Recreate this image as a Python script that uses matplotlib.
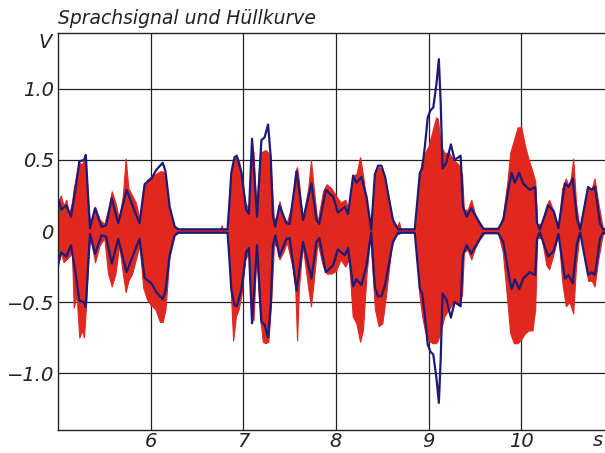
import matplotlib
matplotlib.use("Agg")
import matplotlib.pyplot as plt

# ---- data ----
env_t = [5.00, 5.035, 5.09, 5.14, 5.19, 5.23, 5.28, 5.30, 5.32, 5.345, 5.40, 5.47, 5.52,
         5.58, 5.65, 5.74, 5.81, 5.88, 5.935, 6.01, 6.06, 6.13, 6.16, 6.205, 6.26, 6.30,
         6.83, 6.85, 6.87, 6.905, 6.93, 6.98, 7.03, 7.06, 7.094, 7.148, 7.195, 7.23, 7.267,
         7.296, 7.32, 7.345, 7.39, 7.465, 7.50, 7.575, 7.645, 7.735, 7.79, 7.82, 7.89, 7.97,
         8.02, 8.095, 8.13, 8.185, 8.22, 8.275, 8.33, 8.38, 8.42, 8.455, 8.49, 8.53, 8.56,
         8.615, 8.67, 8.85, 8.905, 8.93, 8.96, 8.99, 9.02, 9.05, 9.085, 9.11, 9.13, 9.15,
         9.19, 9.24, 9.28, 9.345, 9.37, 9.41, 9.46, 9.52, 9.59, 9.75, 9.805, 9.86, 9.895,
         9.93, 9.977, 10.02, 10.09, 10.15, 10.17, 10.20, 10.29, 10.35, 10.40, 10.47, 10.51,
         10.555, 10.60, 10.635, 10.72, 10.76, 10.795, 10.85, 10.885, 10.95]
env_v = [0.23, 0.15, 0.18, 0.10, 0.30, 0.49, 0.50, 0.535, 0.30, 0.02, 0.16, 0.03, 0.04,
         0.23, 0.055, 0.29, 0.17, 0.055, 0.33, 0.37, 0.43, 0.48, 0.42, 0.17, 0.03, 0.012,
         0.012, 0.20, 0.41, 0.52, 0.53, 0.41, 0.15, 0.12, 0.65, 0.10, 0.64, 0.66, 0.75,
         0.52, 0.10, 0.03, 0.18, 0.055, 0.05, 0.42, 0.077, 0.335, 0.077, 0.05, 0.29, 0.24,
         0.13, 0.17, 0.12, 0.39, 0.34, 0.38, 0.24, 0.01, 0.40, 0.46, 0.46, 0.38, 0.27,
         0.077, 0.012, 0.012, 0.41, 0.44, 0.60, 0.80, 0.85, 0.87, 1.04, 1.21, 0.90, 0.44,
         0.48, 0.61, 0.50, 0.53, 0.17, 0.10, 0.16, 0.09, 0.015, 0.015, 0.077, 0.29, 0.41,
         0.34, 0.41, 0.335, 0.29, 0.31, 0.055, 0.01, 0.18, 0.14, 0.02, 0.335, 0.31,
         0.37, 0.09, 0.01, 0.31, 0.29, 0.31, 0.05, 0.01, 0.02]

red_t = [5.00, 5.03, 5.06, 5.09, 5.12, 5.15, 5.17, 5.20, 5.23, 5.26, 5.28, 5.30, 5.33, 5.35,
         5.40, 5.45, 5.50, 5.54, 5.58, 5.62, 5.66, 5.70, 5.73, 5.76, 5.80, 5.84, 5.88, 5.92,
         5.96, 6.00, 6.05, 6.10, 6.13, 6.16, 6.20, 6.25, 6.30, 6.75, 6.765, 6.78, 6.84, 6.87,
         6.89, 6.92, 6.95, 6.98, 7.02, 7.06, 7.09, 7.11, 7.14, 7.18, 7.21, 7.24, 7.27, 7.30,
         7.33, 7.36, 7.39, 7.43, 7.47, 7.53, 7.56, 7.58, 7.60, 7.64, 7.70, 7.73, 7.76, 7.80,
         7.86, 7.90, 7.95, 8.00, 8.05, 8.10, 8.14, 8.18, 8.22, 8.26, 8.29, 8.33, 8.37, 8.42,
         8.46, 8.50, 8.54, 8.60, 8.65, 8.68, 8.70, 8.86, 8.90, 8.93, 8.96, 9.00, 9.04, 9.08,
         9.10, 9.13, 9.17, 9.22, 9.27, 9.32, 9.36, 9.38, 9.42, 9.46, 9.50, 9.55, 9.60, 9.75,
         9.80, 9.85, 9.88, 9.92, 9.96, 10.00, 10.04, 10.08, 10.12, 10.15, 10.17, 10.22,
         10.27, 10.30, 10.34, 10.40, 10.44, 10.48, 10.52, 10.56, 10.59, 10.63, 10.68, 10.72,
         10.76, 10.79, 10.83, 10.88, 10.95]
red_hi = [0.20, 0.25, 0.18, 0.22, 0.12, 0.20, 0.30, 0.40, 0.48, 0.47, 0.50, 0.45, 0.15, 0.05,
          0.17, 0.08, 0.05, 0.15, 0.28, 0.20, 0.08, 0.25, 0.51, 0.30, 0.25, 0.20, 0.08, 0.30,
          0.36, 0.38, 0.40, 0.42, 0.42, 0.40, 0.15, 0.03, 0.01, 0.01, 0.04, 0.01, 0.01, 0.40,
          0.50, 0.52, 0.50, 0.40, 0.20, 0.15, 0.62, 0.55, 0.15, 0.55, 0.56, 0.57, 0.55, 0.40,
          0.08, 0.10, 0.21, 0.10, 0.06, 0.20, 0.42, 0.45, 0.35, 0.08, 0.30, 0.50, 0.30, 0.06,
          0.28, 0.33, 0.30, 0.25, 0.20, 0.22, 0.15, 0.39, 0.40, 0.52, 0.40, 0.20, 0.02, 0.40,
          0.45, 0.44, 0.30, 0.08, 0.02, 0.065, 0.01, 0.01, 0.40, 0.50, 0.55, 0.60, 0.70, 0.80,
          0.79, 0.60, 0.55, 0.55, 0.50, 0.47, 0.40, 0.15, 0.15, 0.22, 0.12, 0.06, 0.015, 0.015,
          0.10, 0.35, 0.55, 0.64, 0.73, 0.73, 0.60, 0.50, 0.42, 0.35, 0.05, 0.05,
          0.18, 0.22, 0.15, 0.02, 0.30, 0.37, 0.30, 0.51, 0.20, 0.01, 0.15, 0.30,
          0.30, 0.37, 0.20, 0.02, 0.02]
red_lo = [-0.25, -0.15, -0.22, -0.20, -0.18, -0.15, -0.54, -0.45, -0.75, -0.70, -0.75, -0.55,
          -0.15, -0.05, -0.22, -0.10, -0.05, -0.30, -0.39, -0.30, -0.10, -0.30, -0.43, -0.35,
          -0.30, -0.20, -0.10, -0.40, -0.48, -0.52, -0.55, -0.64, -0.64, -0.55, -0.20, -0.03,
          -0.01, -0.01, -0.01, -0.01, -0.01, -0.50, -0.77, -0.60, -0.55, -0.45, -0.20, -0.15,
          -0.60, -0.63, -0.15, -0.60, -0.78, -0.79, -0.78, -0.50, -0.10, -0.10, -0.20, -0.15,
          -0.08, -0.25, -0.40, -0.77, -0.40, -0.10, -0.40, -0.53, -0.35, -0.08, -0.25, -0.30,
          -0.30, -0.28, -0.20, -0.25, -0.20, -0.60, -0.65, -0.78, -0.70, -0.30, -0.03, -0.55,
          -0.67, -0.65, -0.45, -0.10, -0.02, -0.02, -0.01, -0.01, -0.45, -0.60, -0.70, -0.77,
          -0.79, -0.79, -0.77, -0.70, -0.60, -0.55, -0.50, -0.52, -0.45, -0.15, -0.13, -0.20,
          -0.12, -0.06, -0.015, -0.015, -0.15, -0.50, -0.72, -0.79, -0.79, -0.76, -0.72,
          -0.70, -0.70, -0.55, -0.05, -0.05, -0.24, -0.27, -0.18, -0.02, -0.35, -0.53, -0.50,
          -0.58, -0.25, -0.01, -0.15, -0.35, -0.35, -0.39, -0.20, -0.02, -0.02]

x_ticks = [6, 7, 8, 9, 10]
y_ticks = [1.0, 0.5, 0.0, -0.5, -1.0]
y_labels = ["1.0", "0.5", "0", "\u22120.5", "\u22121.0"]

title = "Sprachsignal und Hüllkurve"

# ---- figure ----
fig = plt.figure(figsize=(6.05, 4.53), dpi=100)
ax = fig.add_axes([58 / 605, 23 / 453, 1 - 58 / 605, 397 / 453])

RED = "#e0281f"
BLUE = "#1e1a78"

ax.fill_between(red_t, red_lo, red_hi, color=RED, lw=0.8, edgecolor=RED, zorder=2)
ax.plot(env_t, env_v, color=BLUE, lw=1.6, zorder=3, solid_joinstyle="round")
ax.plot(env_t, [-v for v in env_v], color=BLUE, lw=1.6, zorder=3, solid_joinstyle="round")

ax.set_xlim(5.0, 10.903)
ax.set_ylim(-1.401, 1.394)
ax.set_xticks(x_ticks)
ax.set_xticklabels([str(v) for v in x_ticks])
ax.set_yticks(y_ticks)
ax.set_yticklabels(y_labels)
ax.grid(True, color="#222222", lw=0.9, zorder=1)
ax.set_axisbelow(True)
ax.tick_params(length=0, labelsize=14)
ax.tick_params(axis="x", pad=1.5)
ax.tick_params(axis="y", pad=3)
for lab in ax.get_xticklabels() + ax.get_yticklabels():
    lab.set_fontstyle("italic")
    lab.set_color("#222222")
ax.spines["right"].set_visible(False)
for s in ("left", "bottom", "top"):
    ax.spines[s].set_color("#222222")
    ax.spines[s].set_linewidth(1.0)

fig.text(58 / 605, 1 - 18 / 453, title, fontsize=13.5, fontstyle="italic",
         color="#222222", va="center", ha="left")
fig.text(52 / 605, 1 - 43 / 453, "V", fontsize=14, fontstyle="italic",
         color="#222222", va="center", ha="right")
fig.text(593 / 605, 1 - 441 / 453, "s", fontsize=14, fontstyle="italic",
         color="#222222", va="center", ha="left")

fig.savefig("out.png", dpi=100)
